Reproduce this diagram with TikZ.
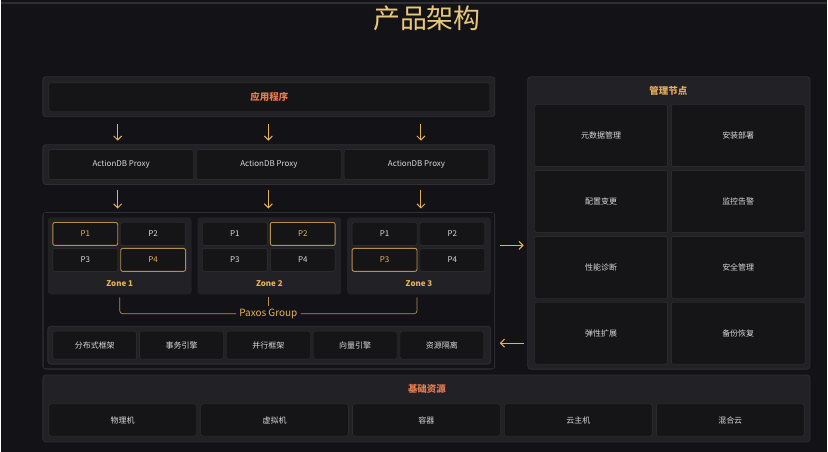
\documentclass[tikz,border=0pt]{standalone}
\usepackage{fontspec}
\setmainfont{Noto Sans CJK SC}
\usetikzlibrary{positioning,arrows.meta}
\definecolor{bgc}{HTML}{131317}
\definecolor{panelc}{HTML}{222226}
\definecolor{cellc}{HTML}{151518}
\definecolor{edgec}{HTML}{2E2E33}
\definecolor{goldc}{HTML}{E2B35C}
\definecolor{titlec}{HTML}{E9C77A}
\definecolor{redc}{HTML}{E8794F}
\definecolor{txtc}{HTML}{D8D8DC}
\tikzset{%
    panel/.style={%
        draw=edgec, fill=panelc, rounded corners=3pt, line width=0.8pt
    },
    cell/.style={%
        draw=black!80, fill=cellc, rounded corners=2pt, text=txtc, font=\fontsize{8}{9}\selectfont
    },
    hot/.style={%
        draw=goldc!80!black, text=goldc, line width=0.9pt
    },
    flow/.style={%
        -{Straight Barb[length=4pt,width=8pt]}, goldc, line width=1pt
    },
    head/.style={%
        font=\fontsize{9.5}{11}\selectfont\bfseries
    },
}
% box from pixel corners
\newcommand{\pbox}[6]{\node[#1, minimum width=#4-#2, minimum height=#5-#3, inner sep=0pt] (#6) at ({(#2+#4)/2},{(#3+#5)/2}) {};}
\begin{document}
\begin{tikzpicture}[x=1pt,y=-1pt]

    \fill[bgc] (0,0) rectangle (828,453);
    \draw[edgec, line width=2pt] (0,3) -- (828,3);
    \useasboundingbox (0,0) rectangle (828,453);

    \node[text=titlec, font=\fontsize{27}{30}\selectfont] (title) at (427,18) {产品架构};

    % application
    \pbox{panel}{42}{77}{495}{117}{apppanel}
    \node[cell, minimum width=442, minimum height=29] (app) at (269,97.5) {};
    \node[head, text=redc] at (app) {应用程序};

    % proxies
    \pbox{panel}{42}{145}{495}{185}{proxypanel}
    \foreach \i/\xa in {1/48,2/196,3/344} {
      \node[cell, minimum width=145, minimum height=30] (proxy\i) at (\xa+72.5,165) {ActionDB Proxy};
    }
    \foreach \i/\xc in {1/117,2/268,3/421} {
      \coordinate (appout\i) at (\xc,124);
      \coordinate (proxyin\i) at (\xc,141);
      \draw[flow] (appout\i) -- (proxyin\i);
      \coordinate (proxyout\i) at (\xc,190);
      \coordinate (zonein\i) at (\xc,209);
      \draw[flow] (proxyout\i) -- (zonein\i);
    }

    % storage panel
    \pbox{panel}{42}{213}{495}{370}{store}
    \fill[bgc] (43,214) rectangle (494,369);
    \foreach \z/\xa/\hl in {1/47/{1,4},2/197/{2},3/347/{3}} {
      \node[panel, draw=none, minimum width=144, minimum height=77] (zone\z) at (\xa+72,256.5) {};
      \node[head, text=goldc, font=\fontsize{8}{9}\selectfont\bfseries] at (\xa+72,284) {Zone \z};
      \foreach \p/\dx/\yc in {1/0/234.5,2/68/234.5,3/0/260.5,4/68/260.5} {
        \node[cell, minimum width=65, minimum height=23] (z\z p\p) at (\xa+37.5+\dx,\yc) {P\p};
      }
      \foreach \p in \hl { \node[cell, hot, minimum width=65, minimum height=23] at (z\z p\p) {P\p}; }
    }
    % paxos bracket
    \node[text=goldc, font=\fontsize{10}{11}\selectfont, fill=bgc, inner sep=3pt] (paxos) at (268,314.5) {Paxos Group};
    \draw[goldc!80!black, line width=0.7pt, rounded corners=3pt] (119,298) |- (paxos.west);
    \draw[goldc!80!black, line width=0.7pt, rounded corners=3pt] (417,298) |- (paxos.east);
    \draw[goldc!80!black, line width=0.7pt] (268,298) -- (268,307);

    \pbox{panel}{47}{327}{491}{365}{engpanel}
    \foreach \i/\t in {1/分布式框架,2/事务引擎,3/并行框架,4/向量引擎,5/资源隔离} {
      \node[cell, minimum width=84, minimum height=28] (eng\i) at (52+42+87*\i-87,346) {\t};
    }

    % management
    \pbox{panel}{528}{77}{811}{370}{mgmt}
    \node[head, text=goldc!90!redc] at (669,91) {管理节点};
    \foreach \r/\ta/\tb in {0/元数据管理/安装部署,1/配置变更/监控告警,2/性能诊断/安全管理,3/弹性扩展/备份恢复} {
      \node[cell, minimum width=133, minimum height=62] (m\r a) at (601.5,136+66*\r) {\ta};
      \node[cell, minimum width=134, minimum height=62] (m\r b) at (739,136+66*\r) {\tb};
    }
    \coordinate (toa) at (500,246);
    \coordinate (tob) at (524,246);
    \draw[flow] (toa) -- (tob);
    \coordinate (fra) at (524,344);
    \coordinate (frb) at (500,344);
    \draw[flow] (fra) -- (frb);

    % resources
    \pbox{panel}{42}{376}{811}{443}{res}
    \node[head, text=redc] at (427,390) {基础资源};
    \foreach \i/\t in {1/物理机,2/虚拟机,3/容器,4/云主机,5/混合云} {
      \node[cell, minimum width=148, minimum height=32] (res\i) at (48+74+152.25*\i-152.25,421) {\t};
    }

  \end{tikzpicture}
\end{document}
